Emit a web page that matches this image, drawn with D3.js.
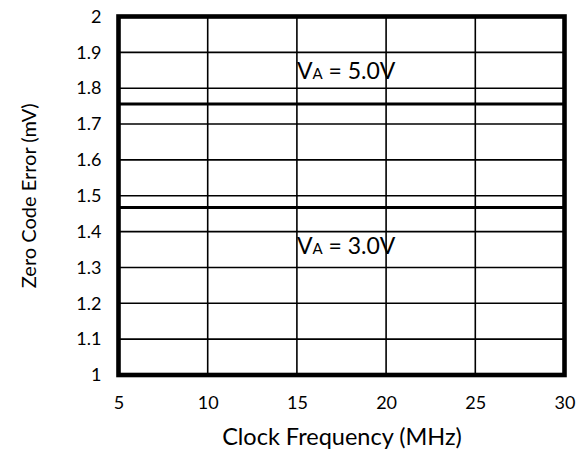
<!DOCTYPE html>
<html>
<head>
<meta charset="utf-8">
<script src="https://cdn.jsdelivr.net/npm/d3@7/dist/d3.min.js"></script>
<style>
  html, body { margin: 0; padding: 0; background: #fff; }
  svg { display: block; font-family: Lato, "Open Sans", sans-serif; }
</style>
</head>
<body>
<svg id="chart" width="585" height="452"></svg>
<script>
// Zero code error versus clock frequency, one flat trace per supply voltage
const xTicks = [5, 10, 15, 20, 25, 30];
const yTicks = [1, 1.1, 1.2, 1.3, 1.4, 1.5, 1.6, 1.7, 1.8, 1.9, 2];
const yTickLabels = ["1", "1.1", "1.2", "1.3", "1.4", "1.5", "1.6", "1.7", "1.8", "1.9", "2"];
const freqMHz = [5, 30];
const errorVA5 = [1.756, 1.756];
const errorVA3 = [1.467, 1.467];
const seriesNames = ["5.0V", "3.0V"];
const labelPos = [[15, 1.826], [15, 1.338]];

const svg = d3.select("#chart");
const margin = { left: 118.5, right: 20.5, top: 16.5, bottom: 77 };
const W = 585, H = 452;

const x = d3.scaleLinear().domain([5, 30]).range([margin.left, W - margin.right]);
const y = d3.scaleLinear().domain([1, 2]).range([H - margin.bottom, margin.top]);

// grid
const grid = svg.append("g");
grid.selectAll("line.v").data(xTicks.slice(1, -1)).join("line")
  .attr("x1", d => x(d)).attr("x2", d => x(d))
  .attr("y1", y(1)).attr("y2", y(2))
  .attr("stroke", "#000").attr("stroke-width", 1.6);
grid.selectAll("line.h").data(yTicks.slice(1, -1)).join("line")
  .attr("x1", x(5)).attr("x2", x(30))
  .attr("y1", d => y(d)).attr("y2", d => y(d))
  .attr("stroke", "#000").attr("stroke-width", 1.6);

// traces
const line = d3.line().x(d => x(d[0])).y(d => y(d[1]));
[errorVA5, errorVA3].forEach(vals => {
  svg.append("path")
    .datum(freqMHz.map((f, i) => [f, vals[i]]))
    .attr("d", line)
    .attr("fill", "none")
    .attr("stroke", "#000")
    .attr("stroke-width", 3);
});

// frame
svg.append("rect")
  .attr("x", x(5)).attr("y", y(2))
  .attr("width", x(30) - x(5)).attr("height", y(1) - y(2))
  .attr("fill", "none").attr("stroke", "#000").attr("stroke-width", 4.6);

// axes (labels only)
const xAxis = d3.axisBottom(x).tickValues(xTicks).tickSize(0).tickPadding(21);
const gx = svg.append("g").attr("transform", `translate(0,${y(1)})`).call(xAxis);
gx.select(".domain").remove();
gx.selectAll("text").attr("font-size", 18).attr("font-family", "Lato").attr("fill", "#000");

const yAxis = d3.axisLeft(y).tickValues(yTicks).tickFormat((d, i) => yTickLabels[i]).tickSize(0).tickPadding(17);
const gy = svg.append("g").attr("transform", `translate(${x(5)},0)`).call(yAxis);
gy.select(".domain").remove();
gy.selectAll("text").attr("font-size", 18).attr("font-family", "Lato").attr("fill", "#000");

// axis titles
svg.append("text")
  .attr("x", 342).attr("y", 445)
  .attr("text-anchor", "middle").attr("font-size", 23.5).attr("fill", "#000")
  .text("Clock Frequency (MHz)");
svg.append("text")
  .attr("transform", `translate(36,${(y(1) + y(2)) / 2}) rotate(-90)`)
  .attr("text-anchor", "middle").attr("font-size", 20).attr("fill", "#000")
  .text("Zero Code Error (mV)");

// series labels
seriesNames.forEach((name, i) => {
  const t = svg.append("text")
    .attr("x", x(labelPos[i][0])).attr("y", y(labelPos[i][1]))
    .attr("font-size", 23).attr("fill", "#000");
  t.append("tspan").text("V");
  t.append("tspan").attr("font-size", 15).text("A");
  t.append("tspan").text(" = " + name);
});
</script>
</body>
</html>
